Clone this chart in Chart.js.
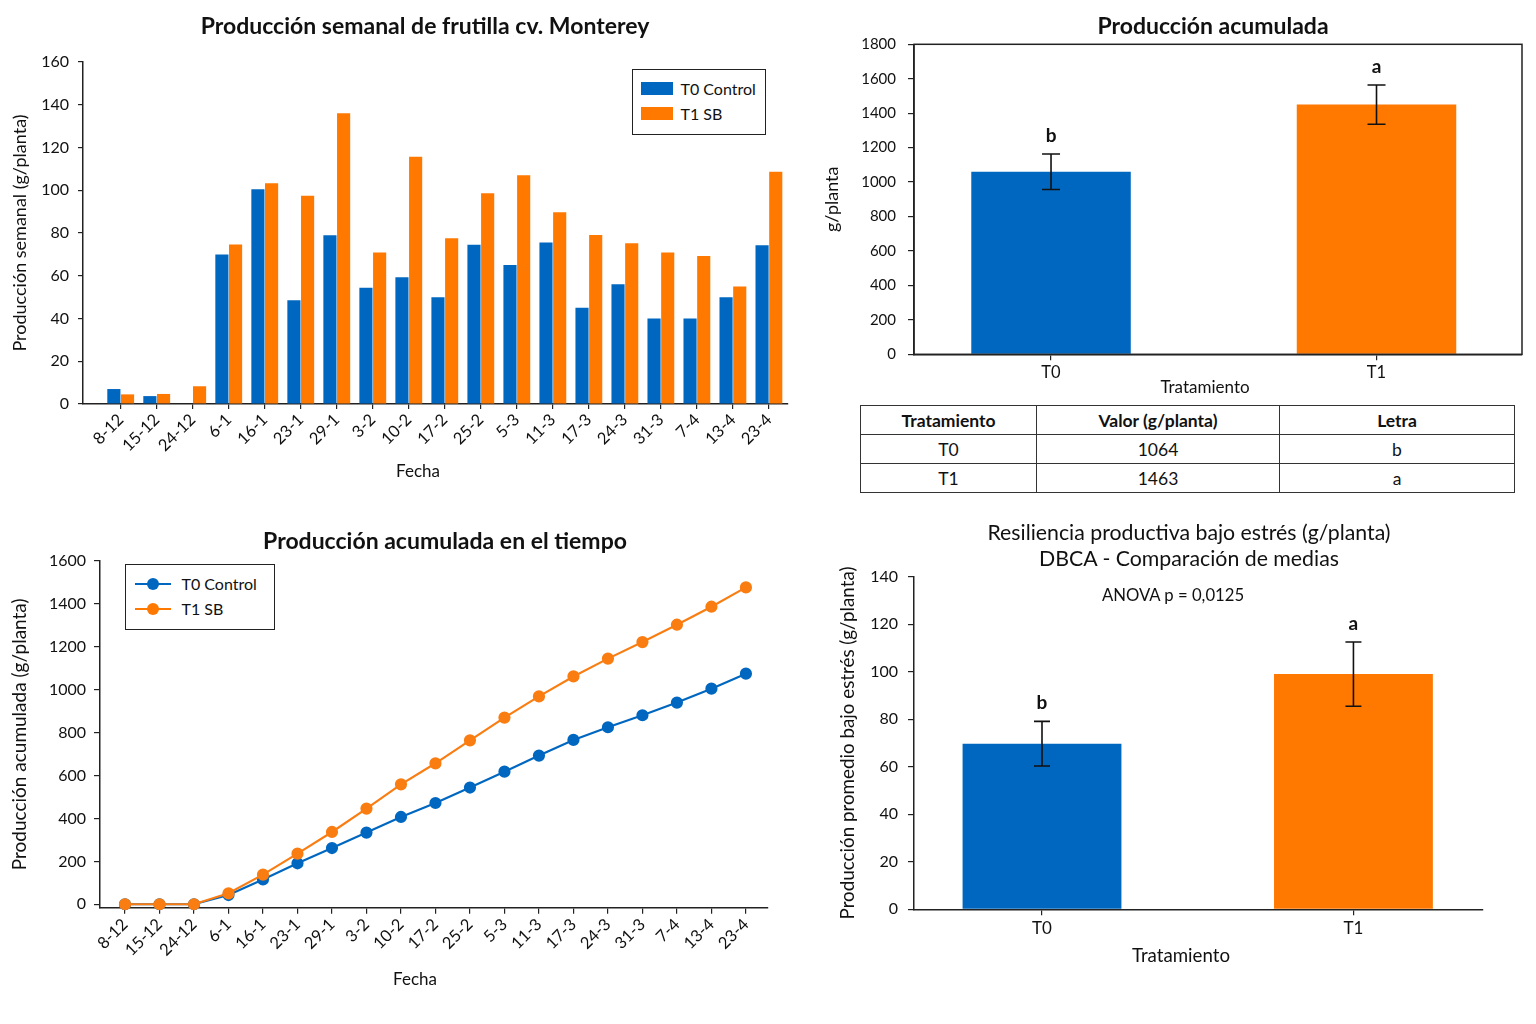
<!DOCTYPE html>
<html lang="es">
<head>
<meta charset="utf-8">
<title>Producción de frutilla cv. Monterey</title>
<script src="https://cdn.jsdelivr.net/npm/chart.js@4.4.1/dist/chart.umd.min.js"></script>
<style>
  body { margin: 0; background: #fff; font-family: Lato, "Open Sans", sans-serif; color: #111; }
  #page { position: relative; width: 1536px; height: 1024px; overflow: hidden; }
  canvas { position: absolute; }
  .titulo { position: absolute; width: 700px; text-align: center; font-size: 23px; font-weight: bold; line-height: 26px; white-space: nowrap; }
  .titulo.fino { font-weight: normal; font-size: 21.3px; }
  .nota { position: absolute; width: 300px; text-align: center; font-size: 16.7px; line-height: 20px; }
  .eje { position: absolute; width: 200px; text-align: center; font-size: 17px; line-height: 20px; }
  .leyenda { position: absolute; box-sizing: border-box; border: 1.5px solid #222; background: #fff; font-size: 16px; }
  .fila { display: flex; align-items: center; height: 25px; }
  .rect { width: 32px; height: 13px; margin-right: 8px; background: var(--c); }
  .linea { position: relative; width: 36px; height: 2px; margin-right: 11px; background: var(--c); }
  .linea::after { content: ""; position: absolute; left: 12px; top: -5px; width: 12px; height: 12px; border-radius: 50%; background: var(--c); }
  table { position: absolute; left: 860px; top: 405px; width: 655px; border-collapse: collapse; font-size: 17.5px; }
  td, th { border: 1.5px solid #333; height: 28px; padding: 0; text-align: center; }
  th { font-weight: bold; }
</style>
</head>
<body>
<div id="page">
  <canvas id="semanal" width="800" height="500" style="left:0;top:0"></canvas>
  <canvas id="acumulada" width="736" height="400" style="left:800px;top:0"></canvas>
  <canvas id="tiempo" width="800" height="500" style="left:0;top:510px"></canvas>
  <canvas id="resiliencia" width="736" height="480" style="left:800px;top:510px"></canvas>

  <div class="titulo" style="left:75px;top:12px">Producción semanal de frutilla cv. Monterey</div>
  <div class="titulo" style="left:863px;top:12px">Producción acumulada</div>
  <div class="titulo" style="left:95px;top:527px">Producción acumulada en el tiempo</div>
  <div class="titulo fino" style="left:839px;top:519px">Resiliencia productiva bajo estrés (g/planta)<br>DBCA - Comparación de medias</div>
  <div class="nota" style="left:1023px;top:585px">ANOVA p = 0,0125</div>

  <div class="eje" style="left:318px;top:461px">Fecha</div>
  <div class="eje" style="left:1105px;top:377px">Tratamiento</div>
  <div class="eje" style="left:315px;top:969px">Fecha</div>
  <div class="eje" style="left:1081px;top:944px;font-size:18.7px;line-height:22px">Tratamiento</div>

  <div id="ley1" class="leyenda" style="left:632px;top:69px;width:134px;height:66px;padding:6px 0 0 7.5px"></div>
  <div id="ley3" class="leyenda" style="left:125px;top:564px;width:150px;height:66px;padding:6px 0 0 8.5px"></div>

  <table id="tabla"></table>
</div>

<script>
// datos
const fechas = ['8-12', '15-12', '24-12', '6-1', '16-1', '23-1', '29-1', '3-2', '10-2', '17-2',
  '25-2', '5-3', '11-3', '17-3', '24-3', '31-3', '7-4', '13-4', '23-4'];
const series = ['T0 Control', 'T1 SB'];
const semanalT0 = [7, 3.7, 0, 70, 100.5, 48.5, 79, 54.4, 59.3, 50, 74.5, 65, 75.5, 45, 56, 40, 40, 50, 74.3];
const semanalT1 = [4.5, 4.7, 8.3, 74.6, 103.3, 97.4, 136, 70.9, 115.7, 77.6, 98.6, 107, 89.7, 79.1, 75.2, 70.9, 69.2, 55, 108.6];
const acumT0 = [0, 0, 0, 43, 116, 191, 262, 334, 407, 472, 544, 618, 693, 766, 825, 881, 940, 1005, 1075];
const acumT1 = [0, 0, 0, 51, 138, 236, 337, 446, 559, 657, 764, 870, 969, 1062, 1145, 1222, 1303, 1387, 1477];
const ticksAcum = [0, 200, 400, 600, 800, 1000, 1200, 1400, 1600];

const tratamientos = ['T0', 'T1'];
const letras = ['b', 'a'];
const totalMedia = [1060, 1450];
const totalError = [103, 114];
const tablaValores = ['1064', '1463'];
const estresMedia = [69.7, 99];
const estresError = [9.4, 13.5];

const azul = '#0067C0';
const naranja = '#FF7800';
const colores = [azul, naranja];

Chart.defaults.font.family = 'Lato, "Open Sans", sans-serif';
Chart.defaults.color = '#111';

// helpers
const borde = { display: true, color: '#222', width: 1.5 };
function marcas(largo) {
  return { display: true, offset: false, drawOnChartArea: false, drawTicks: true, tickLength: largo, color: '#222', lineWidth: 1.2 };
}
function puntos(valores) {
  return valores.map((v, i) => ({ x: i, y: v }));
}
const enteros = { useGrouping: false };
const sinExtras = { legend: { display: false }, tooltip: { enabled: false } };

const barrasError = {
  id: 'barrasError',
  afterDatasetsDraw(chart, args, opts) {
    const { ctx } = chart;
    const y = chart.scales.y;
    const datos = chart.data.datasets[0].data;
    ctx.save();
    ctx.strokeStyle = '#111';
    ctx.fillStyle = '#111';
    ctx.lineWidth = 1.6;
    ctx.font = 'bold ' + opts.tam + 'px Lato';
    ctx.textAlign = 'center';
    ctx.textBaseline = 'middle';
    chart.getDatasetMeta(0).data.forEach((barra, i) => {
      const v = datos[i].y;
      const arriba = y.getPixelForValue(v + opts.error[i]);
      const abajo = y.getPixelForValue(v - opts.error[i]);
      ctx.beginPath();
      ctx.moveTo(barra.x, arriba); ctx.lineTo(barra.x, abajo);
      ctx.moveTo(barra.x - opts.cap, arriba); ctx.lineTo(barra.x + opts.cap, arriba);
      ctx.moveTo(barra.x - opts.cap, abajo); ctx.lineTo(barra.x + opts.cap, abajo);
      ctx.stroke();
      ctx.fillText(opts.letras[i], barra.x, arriba - opts.sep);
    });
    ctx.restore();
  }
};

const marco = {
  id: 'marco',
  afterDraw(chart) {
    const { ctx, chartArea: a } = chart;
    ctx.save();
    ctx.strokeStyle = '#222';
    ctx.lineWidth = 1.5;
    ctx.strokeRect(a.left, a.top, a.right - a.left, a.bottom - a.top);
    ctx.restore();
  }
};

// leyendas y tabla
function leyenda(id, tipo) {
  const caja = document.getElementById(id);
  series.forEach((nombre, i) => {
    const fila = document.createElement('div');
    fila.className = 'fila';
    const marca = document.createElement('span');
    marca.className = tipo;
    marca.style.setProperty('--c', colores[i]);
    fila.append(marca, nombre);
    caja.append(fila);
  });
}
leyenda('ley1', 'rect');
leyenda('ley3', 'linea');

const tabla = document.getElementById('tabla');
tabla.innerHTML = '<tr><th style="width:175px">Tratamiento</th><th style="width:242px">Valor (g/planta)</th><th>Letra</th></tr>' +
  tratamientos.map((t, i) => '<tr><td>' + t + '</td><td>' + tablaValores[i] + '</td><td>' + letras[i] + '</td></tr>').join('');

// 1. produccion semanal
new Chart(document.getElementById('semanal'), {
  type: 'bar',
  data: {
    datasets: [
      { label: series[0], data: puntos(semanalT0), backgroundColor: azul },
      { label: series[1], data: puntos(semanalT1), backgroundColor: naranja }
    ]
  },
  options: {
    responsive: false,
    animation: false,
    layout: { padding: { top: 62, right: 12, left: 0, bottom: 0 } },
    categoryPercentage: 0.76,
    barPercentage: 0.96,
    scales: {
      x: {
        type: 'linear', min: -1.047, max: 18.53, offset: false,
        afterBuildTicks: s => { s.ticks = fechas.map((f, i) => ({ value: i })); },
        afterFit: s => { s.height = 96; },
        ticks: { callback: v => fechas[v], autoSkip: false, minRotation: 45, maxRotation: 45, padding: 1, font: { size: 16.5 } },
        grid: marcas(5),
        border: borde
      },
      y: {
        min: 0, max: 160,
        afterFit: s => { s.width = 83; },
        ticks: { stepSize: 20, padding: 9, font: { size: 16 } },
        grid: marcas(5),
        border: borde,
        title: { display: true, text: 'Producción semanal (g/planta)', font: { size: 18 }, padding: { top: 9.2, bottom: 0 } }
      }
    },
    plugins: sinExtras
  }
});

// 2. produccion acumulada total
new Chart(document.getElementById('acumulada'), {
  type: 'bar',
  data: {
    datasets: [{ data: puntos(totalMedia), backgroundColor: colores, categoryPercentage: 0.49, barPercentage: 1 }]
  },
  options: {
    responsive: false,
    animation: false,
    layout: { padding: { top: 44.3, right: 14, left: 0, bottom: 0 } },
    scales: {
      x: {
        type: 'linear', min: -0.421, max: 1.447, offset: false,
        afterBuildTicks: s => { s.ticks = tratamientos.map((t, i) => ({ value: i })); },
        afterFit: s => { s.height = 45.7; },
        ticks: { callback: v => tratamientos[v], padding: 2, font: { size: 16.5 } },
        grid: marcas(6),
        border: borde
      },
      y: {
        min: 0, max: 1800,
        afterFit: s => { s.width = 114; },
        ticks: { stepSize: 200, padding: 12, format: enteros, font: { size: 15 } },
        grid: marcas(6),
        border: borde,
        title: { display: true, text: 'g/planta', font: { size: 18 }, padding: { top: 21, bottom: 0 } }
      }
    },
    plugins: Object.assign({ barrasError: { error: totalError, letras: letras, cap: 9, sep: 18, tam: 19 } }, sinExtras)
  },
  plugins: [barrasError, marco]
});

// 3. acumulada en el tiempo
new Chart(document.getElementById('tiempo'), {
  type: 'line',
  data: {
    datasets: [
      { label: series[0], data: puntos(acumT0), borderColor: azul, backgroundColor: azul, borderWidth: 2.2, pointRadius: 5, order: 1, clip: false },
      { label: series[1], data: puntos(acumT1), borderColor: '#FA7D12', backgroundColor: '#FA7D12', borderWidth: 2.2, pointRadius: 5, order: 0, clip: false }
    ]
  },
  options: {
    responsive: false,
    animation: false,
    layout: { padding: { top: 51, right: 32, left: 0, bottom: 0 } },
    scales: {
      x: {
        type: 'linear', min: -0.725, max: 18.64, offset: false,
        afterBuildTicks: s => { s.ticks = fechas.map((f, i) => ({ value: i })); },
        afterFit: s => { s.height = 102.3; },
        ticks: { callback: v => fechas[v], autoSkip: false, minRotation: 45, maxRotation: 45, padding: 1, font: { size: 16.5 } },
        grid: marcas(6),
        border: borde
      },
      y: {
        min: -16, max: 1600,
        afterBuildTicks: s => { s.ticks = ticksAcum.map(v => ({ value: v })); },
        afterFit: s => { s.width = 100; },
        ticks: { padding: 8, format: enteros, font: { size: 16 } },
        grid: marcas(6),
        border: borde,
        title: { display: true, text: 'Producción acumulada (g/planta)', font: { size: 19 }, padding: { top: 8.6, bottom: 0 } }
      }
    },
    plugins: sinExtras
  }
});

// 4. resiliencia bajo estres
new Chart(document.getElementById('resiliencia'), {
  type: 'bar',
  data: {
    datasets: [{ data: puntos(estresMedia), backgroundColor: colores, categoryPercentage: 0.51, barPercentage: 1 }]
  },
  options: {
    responsive: false,
    animation: false,
    layout: { padding: { top: 66.7, right: 53, left: 0, bottom: 0 } },
    scales: {
      x: {
        type: 'linear', min: -0.411, max: 1.416, offset: false,
        afterBuildTicks: s => { s.ticks = tratamientos.map((t, i) => ({ value: i })); },
        afterFit: s => { s.height = 80.7; },
        ticks: { callback: v => tratamientos[v], padding: 3, font: { size: 17 } },
        grid: marcas(6),
        border: borde
      },
      y: {
        min: 0, max: 140,
        afterFit: s => { s.width = 114; },
        ticks: { stepSize: 20, padding: 10, font: { size: 16 } },
        grid: marcas(6),
        border: borde,
        title: { display: true, text: 'Producción promedio bajo estrés (g/planta)', font: { size: 18.8 }, padding: { top: 36.7, bottom: 0 } }
      }
    },
    plugins: Object.assign({ barrasError: { error: estresError, letras: letras, cap: 8, sep: 18.5, tam: 19 } }, sinExtras)
  },
  plugins: [barrasError]
});
</script>
</body>
</html>
